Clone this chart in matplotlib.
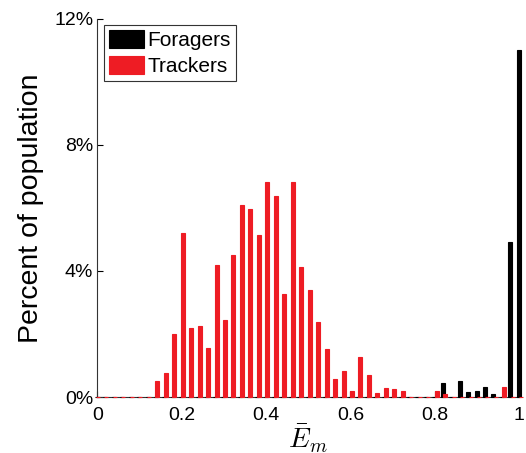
import numpy as np
import matplotlib
matplotlib.use("Agg")
import matplotlib.pyplot as plt

plt.rcParams['font.family'] = ['Liberation Sans', 'DejaVu Sans']
plt.rcParams['mathtext.fontset'] = 'cm'

# Trackers: histogram bins (percent of population), bin centres start at 0.0017
tracker_pct = [0, 0, 0, 0, 0, 0, 0,
               0.51, 0.77, 2.0, 5.2, 2.2, 2.25, 1.56, 4.2, 2.44, 4.5,
               6.08, 5.96, 5.14, 6.83, 6.38, 3.26, 6.83, 4.13, 3.38, 2.39,
               1.51, 0.58, 0.82, 0.2, 1.26, 0.69, 0.12, 0.3, 0.25, 0.2,
               0, 0, 0, 0.19, 0.08, 0, 0, 0, 0, 0, 0, 0.33, 0, 0]
# Foragers: histogram bins at 0, 0.02, ..., 1.0
forager_pct = [0] * 41 + [0.45, 0, 0.52, 0.15, 0.2, 0.33, 0.08, 0, 4.9, 11.0]

tracker_x = 0.0017 + 0.02007 * np.arange(len(tracker_pct))
forager_x = 0.02 * np.arange(len(forager_pct)) - 0.001

red = '#ee1c24'
fig = plt.figure(figsize=(5.26, 4.53), dpi=100)
ax = fig.add_axes([0.185, 0.1236, 0.802, 0.8354])

ax.bar(forager_x, forager_pct, width=0.0095, color='black',
       edgecolor='black', linewidth=0.8, label='Foragers', clip_on=False, zorder=3)
ax.bar(tracker_x, tracker_pct, width=0.0095, color=red,
       edgecolor=red, linewidth=0.8, label='Trackers', clip_on=False, zorder=3)

ax.set_xlim(0, 1)
ax.set_ylim(0, 12)
ax.set_xticks([0, 0.2, 0.4, 0.6, 0.8, 1])
ax.set_xticklabels(['0', '0.2', '0.4', '0.6', '0.8', '1'])
ax.set_yticks([0, 4, 8, 12])
ax.set_yticklabels(['0%', '4%', '8%', '12%'])
ax.tick_params(direction='in', labelsize=14, length=4, width=0.8, pad=3)
ax.tick_params(axis='x', pad=7)
for side in ['top', 'right']:
    ax.spines[side].set_visible(False)
for side in ['left', 'bottom']:
    ax.spines[side].set_color('#333333')
    ax.spines[side].set_linewidth(0.8)

ax.set_ylabel('Percent of population', fontsize=20.5, labelpad=7)
ax.set_xlabel(r'$\bar{E}_m$', fontsize=20, labelpad=-1)

leg = ax.legend(loc='upper left', fontsize=15, frameon=True, fancybox=False,
                edgecolor='#333333', framealpha=1, handlelength=1.67,
                handleheight=0.96, handletextpad=0.2, labelspacing=0.26,
                borderpad=0.25, borderaxespad=0.3)
leg.get_frame().set_linewidth(0.8)

fig.savefig('out.png', dpi=100, facecolor='white')
